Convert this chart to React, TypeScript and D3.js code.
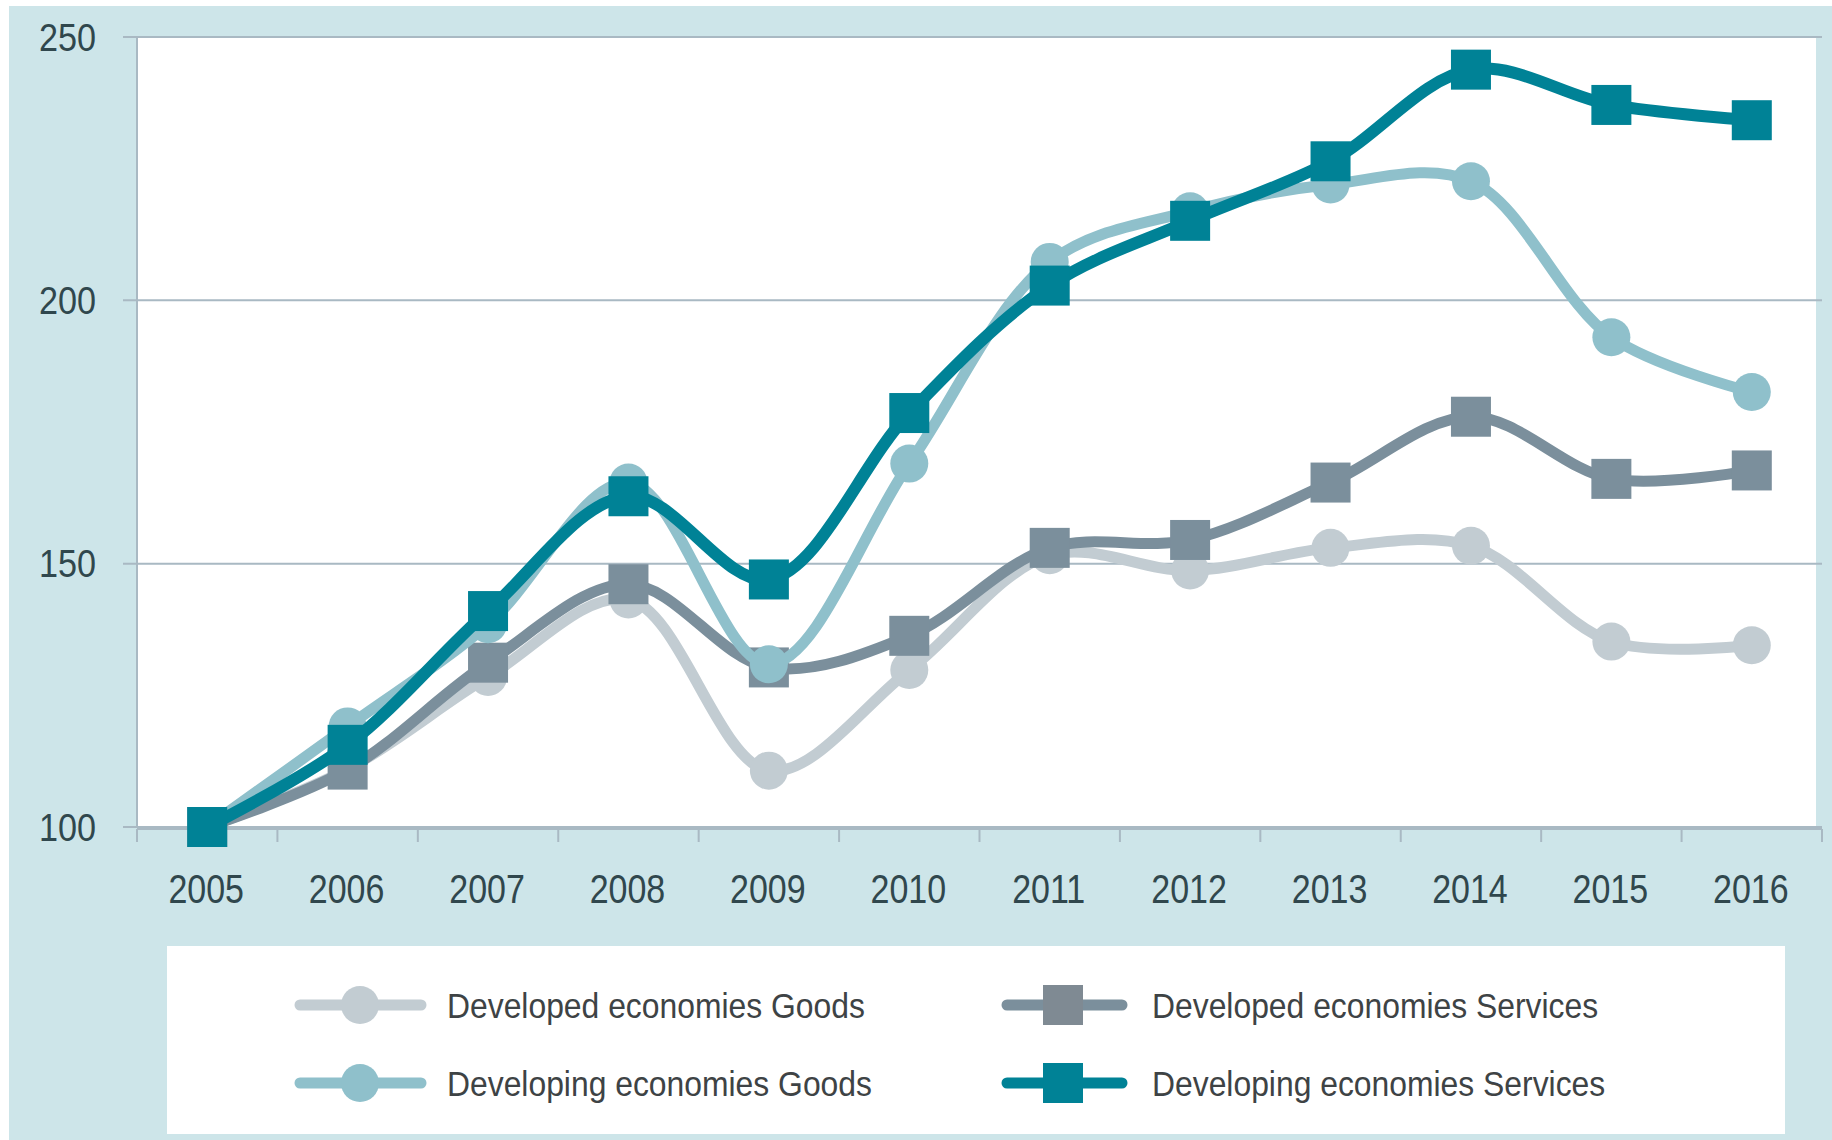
import React from "react";
import * as d3 from "d3";

const years = ["2005","2006","2007","2008","2009","2010","2011","2012","2013","2014","2015","2016"];
const yTicks = [100, 150, 200, 250];
const devGoods = [100, 111, 128.5, 143.2, 110.7, 129.8, 151.6, 148.7, 153, 153.4, 135.2, 134.5];
const devServices = [100, 110.9, 131.2, 146.1, 130.3, 136.3, 153, 154.5, 165.4, 177.9, 166.1, 167.7];
const dingGoods = [100, 119.1, 138.5, 165.4, 130.9, 169, 207.3, 216.9, 222, 222.6, 193, 182.6];
const dingServices = [100, 115.6, 141, 162.8, 147, 178.6, 202.8, 215.1, 226.4, 243.8, 237.1, 234.2];

const seriesNames = [
  "Developed economies Goods",
  "Developed economies Services",
  "Developing economies Goods",
  "Developing economies Services",
];
const seriesColors = ["#c2ccd2", "#7b8f9c", "#8fc0cb", "#008296"];
const seriesShapes = ["circle", "square", "circle", "square"];
const seriesValues = [devGoods, devServices, dingGoods, dingServices];

const W = 1832, H = 1140;
const FONT = "'Liberation Sans', Arial, Helvetica, sans-serif";
const TEXT = "#30474d";
const LEGTEXT = "#3e4345";
const GRID = "#a9b9c3";

export default function App() {
  const left = 137, right = 1822, top = 37, bottom = 827;
  const x = d3.scaleBand<string>().domain(years).range([left, right]);
  const y = d3.scaleLinear().domain([100, 250]).range([bottom, top]);
  const cx = (yr: string) => (x(yr) as number) + x.bandwidth() / 2;
  const line = d3.line<number>()
    .x((_, i) => cx(years[i]))
    .y((v) => y(v))
    .curve(d3.curveCatmullRom.alpha(0.5));

  const marker = (shape: string, px: number, py: number, color: string, key: string) =>
    shape === "circle" ? (
      <circle key={key} cx={px} cy={py} r={19} fill={color} />
    ) : (
      <rect key={key} x={px - 20} y={py - 20} width={40} height={40} fill={color} />
    );

  const legendPos = [
    { lx1: 300, lx2: 421, cx: 360, tx: 447, ly: 1005 },
    { lx1: 1007, lx2: 1122, cx: 1063, tx: 1152, ly: 1005 },
    { lx1: 300, lx2: 421, cx: 360, tx: 447, ly: 1083 },
    { lx1: 1007, lx2: 1122, cx: 1063, tx: 1152, ly: 1083 },
  ];

  return (
    <div style={{ position: "absolute", left: 0, top: 0 }}>
      <svg width={W} height={H} style={{ display: "block" }}>
        <rect x={0} y={0} width={W} height={H} fill="#ffffff" />
        <rect x={9} y={6} width={W - 9} height={H - 6} fill="#cde5e9" />
        <rect x={left} y={top} width={1816 - left} height={bottom - top} fill="#ffffff" />
        {yTicks.map((t) => (
          <g key={t}>
            <line x1={123} x2={right} y1={y(t)} y2={y(t)} stroke={GRID} strokeWidth={2} />
            <text transform={`translate(96,${y(t)}) scale(0.9,1)`} dy="0.36em" textAnchor="end" fontFamily={FONT} fontSize={38} fill={TEXT}>{t}</text>
          </g>
        ))}
        <line x1={left} x2={left} y1={top} y2={bottom} stroke={GRID} strokeWidth={2} />
        <line x1={left} x2={right} y1={bottom + 2} y2={bottom + 2} stroke={GRID} strokeWidth={2} />
        {[...years.map((yr) => x(yr) as number), right].map((tx, i) => (
          <line key={i} x1={tx} x2={tx} y1={bottom + 2} y2={bottom + 15} stroke={GRID} strokeWidth={2} />
        ))}
        {years.map((yr) => (
          <text key={yr} transform={`translate(${cx(yr) - 1},889) scale(0.85,1)`} dy="0.36em" textAnchor="middle" fontFamily={FONT} fontSize={40} fill={TEXT}>{yr}</text>
        ))}
        {seriesValues.map((vals, si) => (
          <g key={si}>
            <path d={line(vals) as string} fill="none" stroke={seriesColors[si]} strokeWidth={si === 3 ? 12 : 11} strokeLinecap="round" strokeLinejoin="round" />
            {vals.map((v, i) => marker(seriesShapes[si], cx(years[i]), y(v), seriesColors[si], `${si}-${i}`))}
          </g>
        ))}
        <rect x={167} y={946} width={1785 - 167} height={1134 - 946} fill="#ffffff" />
        {seriesNames.map((name, si) => {
          const p = legendPos[si];
          return (
            <g key={name}>
              <line x1={p.lx1} x2={p.lx2} y1={p.ly} y2={p.ly} stroke={seriesColors[si]} strokeWidth={11} strokeLinecap="round" />
              {marker(seriesShapes[si], p.cx, p.ly, si === 1 ? "#7f8a93" : seriesColors[si], `l${si}`)}
              <text transform={`translate(${p.tx},${p.ly}) scale(0.885,1)`} dy="0.36em" fontFamily={FONT} fontSize={36} fill={LEGTEXT}>{name}</text>
            </g>
          );
        })}
      </svg>
    </div>
  );
}
